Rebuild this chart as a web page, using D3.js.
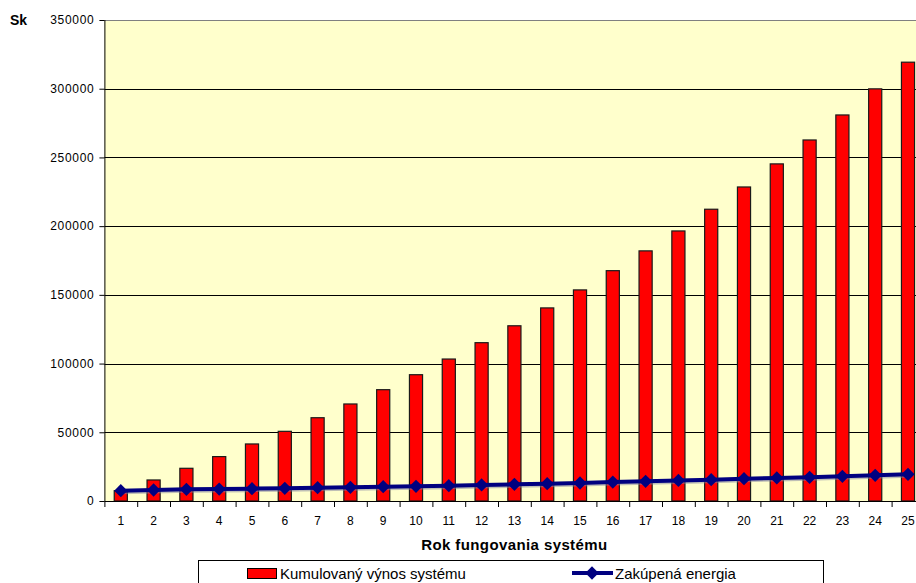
<!DOCTYPE html>
<html>
<head>
<meta charset="utf-8">
<script src="https://cdn.jsdelivr.net/npm/d3@7"></script>
<style>
  html, body { margin: 0; padding: 0; background: #fff; overflow: hidden; }
  svg { display: block; font-family: Arial, "Liberation Sans", sans-serif; }
</style>
</head>
<body>
<svg id="chart" width="916" height="583"></svg>
<script>
const years = d3.range(1, 26).map(String);
const cumulativeYield = [7500, 15300, 23800, 32300, 41500, 50700, 60600, 70600, 81000, 91900,
  103300, 115200, 127500, 140500, 153600, 167600, 182000, 196500, 212300, 228500,
  245300, 262700, 280900, 299900, 319300];
const purchasedEnergy = [7500, 8000, 8500, 8700, 9000, 9200, 9700, 9950, 10400, 10700,
  11150, 11650, 12150, 12600, 13100, 13800, 14300, 15000, 15500, 16250,
  16750, 17200, 17950, 18700, 19400];
const yTicks = [0, 50000, 100000, 150000, 200000, 250000, 300000, 350000];
const seriesNames = ["Kumulovaný výnos systému", "Zakúpená energia"];
const yUnit = "Sk";
const xTitle = "Rok fungovania systému";

(function () {
const svg = d3.select("#chart");
const pL = 104.4, pR = 924.4, pT = 20, pB = 501;

const x = d3.scaleBand().domain(years).range([pL, pR]).padding(0);
const y = d3.scaleLinear().domain([0, 350000]).range([pB, pT]);
const bw = x.bandwidth();

// plot background
svg.append("rect").attr("x", pL).attr("y", pT)
  .attr("width", pR - pL).attr("height", pB - pT)
  .attr("fill", "#FFFFCC");

// gridlines
svg.append("g").selectAll("line").data(yTicks.filter(t => t > 0))
  .join("line")
  .attr("x1", pL).attr("x2", pR)
  .attr("y1", d => Math.round(y(d)) + 0.5).attr("y2", d => Math.round(y(d)) + 0.5)
  .attr("stroke", d => d === 350000 ? "#808080" : "#000")
  .attr("stroke-width", 1);

// bars
svg.append("g").selectAll("rect").data(cumulativeYield)
  .join("rect")
  .attr("x", (d, i) => x(years[i]) + bw * 0.3)
  .attr("y", d => y(d))
  .attr("width", bw * 0.4)
  .attr("height", d => pB - y(d))
  .attr("fill", "#FF0000")
  .attr("stroke", "#1a1a1a")
  .attr("stroke-width", 1.2);

// line
const line = d3.line()
  .x((d, i) => x(years[i]) + bw / 2)
  .y(d => y(d));
svg.append("path").datum(purchasedEnergy)
  .attr("d", line)
  .attr("fill", "none")
  .attr("stroke", "#8080a0")
  .attr("stroke-opacity", 0.5)
  .attr("stroke-width", 4)
  .attr("transform", "translate(1,1.5)");
svg.append("path").datum(purchasedEnergy)
  .attr("d", line)
  .attr("fill", "none")
  .attr("stroke", "#000080")
  .attr("stroke-width", 4);

const diamond = d3.symbol().type(d3.symbolSquare).size(88);
svg.append("g").selectAll("path").data(purchasedEnergy)
  .join("path")
  .attr("d", diamond)
  .attr("transform", (d, i) => `translate(${x(years[i]) + bw / 2},${y(d)}) rotate(45)`)
  .attr("fill", "#000080");

// y axis
const yAxis = svg.append("g")
  .attr("transform", `translate(${pL},0)`)
  .call(d3.axisLeft(y).tickValues(yTicks).tickSize(5).tickPadding(5).tickFormat(d3.format("d")));
yAxis.select(".domain").attr("stroke", "#000").attr("d", `M0.5,${pT}V${pB}`);
yAxis.selectAll(".tick line").attr("stroke", "#000");
yAxis.selectAll(".tick text")
  .attr("font-size", "12px")
  .attr("letter-spacing", "0.7px")
  .attr("fill", "#000")
  .attr("font-family", "Arial, 'Liberation Sans', sans-serif");

// x axis (labels)
const xAxis = svg.append("g")
  .attr("transform", `translate(0,${pB})`)
  .call(d3.axisBottom(x).tickSize(0).tickPadding(15.2));
xAxis.select(".domain").attr("stroke", "#000").attr("d", `M${pL},0.5H${pR}`);
xAxis.selectAll(".tick text")
  .attr("font-size", "12px")
  .attr("fill", "#000")
  .attr("font-family", "Arial, 'Liberation Sans', sans-serif");

// x category boundary ticks
svg.append("g").selectAll("line").data(years.concat(["end"]))
  .join("line")
  .attr("x1", d => (d === "end" ? pR : x(d)) + 0.5)
  .attr("x2", d => (d === "end" ? pR : x(d)) + 0.5)
  .attr("y1", pB).attr("y2", pB + 6)
  .attr("stroke", "#000");

// axis titles
svg.append("text").attr("x", 10).attr("y", 25)
  .attr("font-size", "14px").attr("font-weight", "bold").text(yUnit);
svg.append("text").attr("x", (pL + pR) / 2).attr("y", 550)
  .attr("text-anchor", "middle")
  .attr("font-size", "15px").attr("font-weight", "bold")
  .attr("letter-spacing", "0.4px")
  .text(xTitle);

// legend
const lg = svg.append("g");
lg.append("rect").attr("x", 198.5).attr("y", 560.5).attr("width", 625).attr("height", 40)
  .attr("fill", "#fff").attr("stroke", "#000");
lg.append("rect").attr("x", 247.5).attr("y", 568.5).attr("width", 29).attr("height", 10)
  .attr("fill", "#FF0000").attr("stroke", "#000");
lg.append("text").attr("x", 280).attr("y", 579).attr("font-size", "15px").text(seriesNames[0]);
lg.append("line").attr("x1", 572).attr("x2", 613).attr("y1", 573).attr("y2", 573)
  .attr("stroke", "#000080").attr("stroke-width", 4);
lg.append("path").attr("d", diamond).attr("transform", "translate(592,573) rotate(45)")
  .attr("fill", "#000080");
lg.append("text").attr("x", 615).attr("y", 579).attr("font-size", "15px").text(seriesNames[1]);
})();
</script>
</body>
</html>
